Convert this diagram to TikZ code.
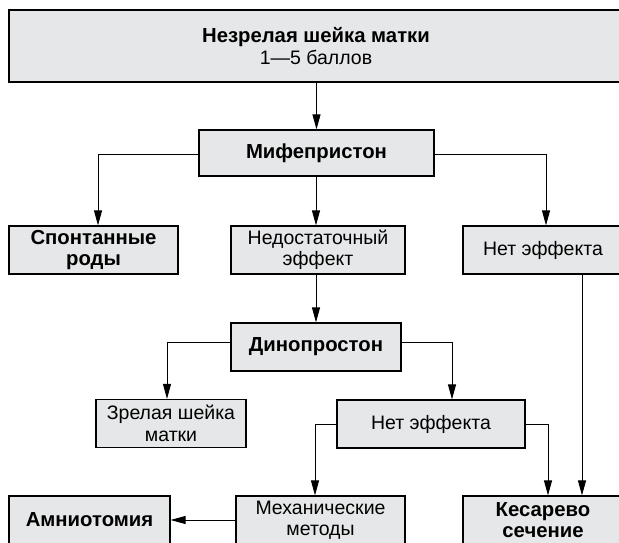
\documentclass[tikz,border=0pt]{standalone}
\usepackage{fontspec}
\setmainfont{Liberation Sans}
\usetikzlibrary{arrows.meta}
\definecolor{boxgray}{HTML}{E6E7E8}
\begin{document}
\begin{tikzpicture}[x=1pt,y=-1pt,
 box/.style={draw=black, line width=1.2pt, fill=boxgray, inner sep=0pt, align=center,
   font=\fontsize{19.5}{21.5}\selectfont, minimum height=48pt},
 bbox/.style={box, font=\fontsize{20.3}{21.5}\selectfont\bfseries},
 arr/.style={-{Triangle[length=15pt,width=8pt]}, line width=1pt}]
\useasboundingbox (0,0) rectangle (619,543);
\clip (0,0) rectangle (619,543);
% nodes
\node[box, minimum width=614pt, minimum height=72pt] (top) at (316,46)
  {{\fontsize{20.3}{24}\selectfont\bfseries Незрелая шейка матки}\\1—5 баллов};
\node[bbox, minimum width=235pt, minimum height=46pt] (mif) at (316.5,153) {Мифепристон};
\node[bbox, minimum width=169pt] (spont) at (93.5,250) {Спонтанные\\роды};
\node[box, minimum width=174pt] (ned) at (318,250) {Недостаточный\\эффект};
\node[box, minimum width=160pt] (ne1) at (543,250) {Нет эффекта};
\node[bbox, minimum width=170pt] (dino) at (316,347) {Динопростон};
\node[box, minimum width=150pt] (zrel) at (171,423.5) {Зрелая шейка\\матки};
\node[box, minimum width=188pt] (ne2) at (431,424) {Нет эффекта};
\node[bbox, minimum width=161pt] (amnio) at (89.5,520) {Амниотомия};
\node[box, minimum width=169pt] (mech) at (320.5,520) {Механические\\методы};
\node[bbox, minimum width=160pt] (kes) at (543,520) {Кесарево\\сечение};
% helper coordinates
\coordinate (mifL) at (98,154);
\coordinate (mifR) at (546,154);
\coordinate (dinoL) at (167,342);
\coordinate (dinoR) at (452,342);
\coordinate (ne2L) at (315,424);
\coordinate (ne2R) at (548,424);
\coordinate (ne1D) at (582,250);
% connectors
\draw[arr] (top.south -| mif.north) -- (mif.north);
\draw[arr] (mif.west |- mifL) -- (mifL) -- (mifL |- spont.north);
\draw[arr] (mif.east |- mifR) -- (mifR) -- (mifR |- ne1.north);
\draw[arr] (mif.south -| 316,0) -- (ned.north -| 316,0);
\draw[arr] (ned.south -| 316,0) -- (dino.north -| 316,0);
\draw[arr] (dino.west |- dinoL) -- (dinoL) -- (dinoL |- zrel.north);
\draw[arr] (dino.east |- dinoR) -- (dinoR) -- (dinoR |- ne2.north);
\draw[arr] (ne1.south -| ne1D) -- (ne1D |- kes.north);
\draw[arr] (ne2.west |- ne2L) -- (ne2L) -- (ne2L |- mech.north);
\draw[arr] (ne2.east |- ne2R) -- (ne2R) -- (ne2R |- kes.north);
\draw[arr] (mech.west) -- (amnio.east);
\end{tikzpicture}
\end{document}
